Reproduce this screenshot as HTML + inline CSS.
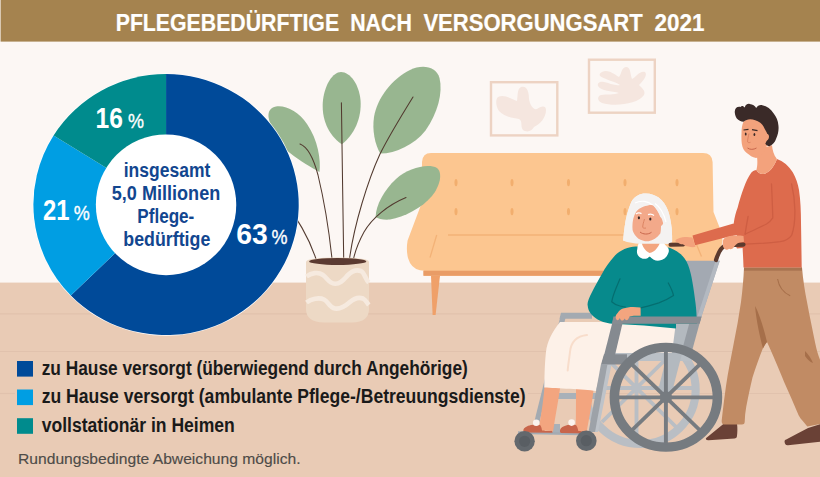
<!DOCTYPE html>
<html><head><meta charset="utf-8">
<style>
html,body{margin:0;padding:0;background:#FCF7F4;overflow:hidden;}
svg{display:block;}
text{font-family:"Liberation Sans",sans-serif;}
</style></head><body>
<svg width="820" height="477" viewBox="0 0 820 477">
<!-- wall + floor -->
<rect x="0" y="0" width="820" height="477" fill="#FCF7F4"/>
<rect x="0" y="282.6" width="820" height="195" fill="#E9CBB5"/>
<g stroke="#E1C2AD" stroke-width="1.2">
<line x1="0" y1="313.9" x2="820" y2="313.9"/>
<line x1="0" y1="351.5" x2="820" y2="351.5"/>
<line x1="0" y1="393.5" x2="15" y2="393.5"/><line x1="528" y1="393.5" x2="820" y2="393.5"/>
</g>
<!-- header -->
<rect x="0.6" y="0" width="820" height="41.6" fill="#A5834F"/>
<g fill="#FFFFFF" font-weight="bold" font-size="24" stroke="#FFFFFF" stroke-width="0.2">
<text x="115.7" y="30.6" textLength="223.4" lengthAdjust="spacingAndGlyphs">PFLEGEBEDÜRFTIGE</text>
<text x="350.2" y="30.6" textLength="61.7" lengthAdjust="spacingAndGlyphs">NACH</text>
<text x="423.4" y="30.6" textLength="219.3" lengthAdjust="spacingAndGlyphs">VERSORGUNGSART</text>
<text x="654.4" y="30.6" textLength="50" lengthAdjust="spacingAndGlyphs">2021</text>
</g>
<!-- picture frames -->
<g id="frames">
<rect x="491" y="82.2" width="66.3" height="53.2" fill="none" stroke="#EDD3C3" stroke-width="2.4"/>
<rect x="589" y="59.7" width="65.8" height="53" fill="none" stroke="#EDD3C3" stroke-width="2.4"/>
<path d="M498,97 C504,94 512,99 517,101 C518,95 517,89 521,87 C527,85 529,92 529,99 C530,105 533,110 537,109 C541,106 546,105 546,110 C546,118 540,124 534,127 C532,131 527,133 523,130 C520,126 523,121 519,119 C513,118 505,117 499,111 C496,107 495,100 498,97 Z" fill="#F5E6DF"/>
<path d="M602,72 C607,69 613,73 619,77 C622,73 621,68 626,67 C631,67 630,74 632,79 C636,77 640,70 645,72 C648,75 643,81 639,85 C642,88 646,91 644,95 C638,104 615,107 602,103 C597,101 597,96 601,95 C607,94 614,95 619,93 C612,91 601,91 598,86 C597,83 600,81 604,82 C609,83 615,86 620,85 C614,81 603,79 600,76 C599,74 600,73 602,72 Z" fill="#F5E6DF"/>
</g>
<!-- sofa -->
<g id="sofa">
<path d="M431,153 L703,153 Q712,153 712.6,162 L713.5,212 L719.4,227 L722.5,240 L721,250 L715,262 L712,275.8 L424,275.8 L424,270.7 L420,270.2 Q411,268.5 408,258 Q406,250 407.6,240.6 L421.7,203 L422,162 Q422.5,153 431,153 Z" fill="#FCC690"/>
<rect x="423.3" y="270.7" width="289" height="5.1" fill="#E99C66"/>
<path d="M431,275.8 L440,275.8 L435.6,315 L432.6,315 Z" fill="#EFA069"/>
<g fill="#F2AE6E">
<ellipse cx="456" cy="182.6" rx="1.55" ry="3.6"/><ellipse cx="512" cy="182.6" rx="1.55" ry="3.6"/><ellipse cx="568.5" cy="182.6" rx="1.55" ry="3.6"/><ellipse cx="625" cy="182.6" rx="1.55" ry="3.6"/><ellipse cx="677" cy="182.6" rx="1.55" ry="3.6"/>
<ellipse cx="456" cy="211.6" rx="1.55" ry="3.6"/><ellipse cx="512" cy="211.6" rx="1.55" ry="3.6"/><ellipse cx="568.5" cy="211.6" rx="1.55" ry="3.6"/><ellipse cx="625" cy="211.6" rx="1.55" ry="3.6"/><ellipse cx="677" cy="211.6" rx="1.55" ry="3.6"/>
</g>
<g stroke="#F3B277" stroke-width="1.3" fill="none">
<line x1="448" y1="235" x2="624" y2="235"/>
<line x1="436.7" y1="235" x2="430" y2="257.6"/>
<line x1="696.5" y1="244.5" x2="701.5" y2="256.5"/>
</g>
</g>
<!-- plant -->
<g id="plant">
<g fill="#98B690">
<path d="M319.5,172 C321,160 318,140 307,124 C299,112 286,105 276,106.5 C270.5,107.5 268,111 268.5,117 C270.5,131 280,146 290,153 C300,161 312,168 319.5,172 Z"/>
<path d="M341.8,144.3 C328,135 321,118 323,100 C325,84 333,72 341,72 C350,72 359,84 360.5,100 C362,118 354,135 341.8,144.3 Z"/>
<path d="M380.3,153.6 C375,145 372,130 374,117 C377,98 392,79 410,70 C422,64 436,66 439.5,78 C443,92 438,113 425.5,130.4 C414,145 396,153 380.3,153.6 Z"/>
<path d="M375.6,217 C376,205 384,190 396,179 C408,168 428,163 437,168 C443,173 440,186 432,196 C422,208 404,217 390,219.5 C384,220 378,219 375.6,217 Z"/>
</g>
<g stroke="#523A2F" stroke-width="1.05" fill="none" stroke-linecap="round">
<path d="M285,205 C296,215 309,238 316,259"/>
<path d="M300,144 C308,147 314,160 318,175 C324,200 329,230 332,259"/>
<path d="M341.4,102.8 C342,150 343,210 343.7,259"/>
<path d="M413,97 C400,118 388,138 380,154 C368,180 354,225 349.5,259"/>
<path d="M406,197.5 C388,205 372,218 364,232 C358,243 355,252 353.5,259"/>
</g>
<path d="M306,262 Q306,257.5 338,257.5 Q369,257.5 369,262 L369,309 Q369,322.4 352,322.4 L324,322.4 Q306,322.4 306,309 Z" fill="#EDD9C5"/>
<ellipse cx="337.7" cy="261.4" rx="28.6" ry="3.5" fill="#5B3A31"/>
<g stroke="#F6EADF" stroke-width="4.6" fill="none" stroke-linecap="butt">
<path d="M306.5,276.5 C311,273 318,271.5 323,275 C328,279 329,283.5 335,283.8 C341,284 344,279 348,275 C352,271 357,269.5 361,271 C365,273 365,279 368.8,282.5"/>
<path d="M306.5,302.5 C311,299 319,297 324,299.5 C329,302 329,307.5 335,308.5 C341,309.5 346,305.5 350,302 C354,298.5 359,297 363,298.5 C366,300 367,303 368.8,305"/>
</g>
</g>
<!-- donut -->
<g id="donut" transform="translate(166.05,204.6) scale(1.0165,1)">
<circle r="131.2" fill="#FFFFFF"/>
<path d="M0,0 L0,-130.5 A130.5,130.5 0 1 1 -93.71,90.82 Z" fill="#004A99"/>
<path d="M0,0 L-93.71,90.82 A130.5,130.5 0 0 1 -110.67,-69.15 Z" fill="#009EE3"/>
<path d="M0,0 L-110.67,-69.15 A130.5,130.5 0 0 1 0,-130.5 Z" fill="#008B8D"/>
</g>
<ellipse cx="166.05" cy="204.8" rx="70.2" ry="70.4" fill="#FFFFFF"/>
<g fill="#12468F" font-weight="bold" font-size="19.5" text-anchor="middle">
<text x="167" y="176.5" textLength="86.5" lengthAdjust="spacingAndGlyphs">insgesamt</text>
<text x="166" y="199.9" textLength="108.5" lengthAdjust="spacingAndGlyphs">5,0 Millionen</text>
<text x="165.8" y="223" textLength="57" lengthAdjust="spacingAndGlyphs">Pflege-</text>
<text x="166.8" y="245.8" textLength="87" lengthAdjust="spacingAndGlyphs">bedürftige</text>
</g>
<g fill="#FFFFFF">
<text x="95.6" y="127.9" font-size="29.5" font-weight="bold" textLength="27.4" lengthAdjust="spacingAndGlyphs">16</text>
<text x="128" y="127.9" font-size="20.5" stroke="#FFFFFF" stroke-width="0.35" textLength="16" lengthAdjust="spacingAndGlyphs">%</text>
<text x="42.9" y="219.5" font-size="29.5" font-weight="bold" textLength="26.5" lengthAdjust="spacingAndGlyphs">21</text>
<text x="73.8" y="219.5" font-size="20.5" stroke="#FFFFFF" stroke-width="0.35" textLength="16" lengthAdjust="spacingAndGlyphs">%</text>
<text x="236.2" y="244" font-size="29.5" font-weight="bold" textLength="31.5" lengthAdjust="spacingAndGlyphs">63</text>
<text x="271.4" y="244" font-size="20.5" stroke="#FFFFFF" stroke-width="0.35" textLength="16" lengthAdjust="spacingAndGlyphs">%</text>
</g>
<!-- legend -->
<rect x="17" y="361" width="16" height="15.6" fill="#004A99"/>
<rect x="17" y="389.5" width="16" height="15.6" fill="#009EE3"/>
<rect x="17" y="418.2" width="16" height="15.6" fill="#008B8D"/>
<g fill="#1A1A1A" font-weight="bold" font-size="20">
<text x="41.7" y="375.1" textLength="426.1" lengthAdjust="spacingAndGlyphs">zu Hause versorgt (überwiegend durch Angehörige)</text>
<text x="41.7" y="403" textLength="483.9" lengthAdjust="spacingAndGlyphs">zu Hause versorgt (ambulante Pflege-/Betreuungsdienste)</text>
<text x="41.7" y="431.6" textLength="193.1" lengthAdjust="spacingAndGlyphs">vollstationär in Heimen</text>
</g>
<text x="18" y="463.5" font-size="15.4" fill="#4E4B48" stroke="#4E4B48" stroke-width="0.15" textLength="282.5" lengthAdjust="spacingAndGlyphs">Rundungsbedingte Abweichung möglich.</text>
<!-- FIGURES -->
<g id="figures">
<!-- far wheel -->
<g transform="translate(640.5,389.8) scale(1.016,1)" stroke="#B9BEC4" fill="none">
<circle r="54.3" stroke-width="8"/>
</g>
<g transform="translate(636.5,388) scale(1.016,1)" stroke="#B9BEC4" fill="none">
<g stroke-width="3.8">
<line x1="0" y1="-52" x2="0" y2="54"/><line x1="-50" y1="0" x2="56" y2="0"/>
<line x1="-36.8" y1="-36.8" x2="40" y2="40"/><line x1="-34" y1="34" x2="38" y2="-38"/>
</g>
<circle r="5" fill="#B9BEC4" stroke="none"/>
</g>
<!-- far frame -->
<path d="M561,312.8 L592,312.8 L592,318.8 L559.5,318.8 Z" fill="#A3AAB1"/>
<path d="M560.5,316 L566,316 L537.2,431 L532,431 Z" fill="#A3AAB1"/>
<!-- far lower tubes -->
<path d="M606,362 L612,362 L598,432 L592,432 Z" fill="#BEC3C9"/>
<rect x="602" y="352" width="90" height="9" fill="#BAC0C6"/>
<!-- back panel -->
<path d="M672,260.8 L719.7,260.8 L699.7,322 L660,322 Z" fill="#A3A9B2"/>
<path d="M715.6,260.8 L719.7,260.8 L699.7,322 L695.6,322 Z" fill="#B3B9C1"/>
<path d="M675.5,323 L690,323 L672,392 L657.5,392 Z" fill="#B3B9BF"/>
<path d="M689.3,323.3 L701.3,317 L691.2,354 L681,354 Z" fill="#959BA2"/>
<!-- footrest -->
<rect x="553" y="393" width="48" height="6" fill="#A9B1B9"/>
<path d="M553,424 L560,424 L560,433 L553,433 Z" fill="#A9B0B8"/>
<path d="M518,431.2 L592.5,432.6 L592.5,435.4 L518,434 Z" fill="#A4ABB3"/>
<!-- shoes -->
<path d="M523.4,430 C523.8,427.6 527,426 531,425 C534,424.3 538,424.3 541,425 L545,431 L552.4,430.6 L552.4,432.8 L524.4,432.4 C523.5,432 523.2,431 523.4,430 Z" fill="#C8654B"/>
<path d="M560,430.4 C560.4,427.8 563.5,426 567.5,425 C570.5,424.3 574,424.3 577,425 L581,431.2 L587.8,431 L587.8,433.4 L561,432.9 C560,432.5 559.8,431.4 560,430.4 Z" fill="#C8654B"/>
<!-- woman legs -->
<path d="M544.6,386 L560.4,386 C558.5,400 555.5,415 553.2,430.8 L542,430.6 C541.8,428 541,425.8 539.5,424.6 C541.8,411 543.6,398 544.6,386 Z" fill="#F3A57F"/>
<path d="M576,388 L593.8,388 C592.3,402 589.5,416 586.8,431 L578.3,431 C577.8,428.5 577,426 575.8,424.8 C576,412 576,400 576,388 Z" fill="#F3A57F"/>
<circle cx="536.2" cy="422.8" r="3.3" fill="#FBF3EE"/>
<circle cx="571.6" cy="422.6" r="3.3" fill="#FBF3EE"/>
<!-- skirt -->
<path d="M560,322 C552,332 547,342 546,352 C544.5,365 544.5,378 544.3,387.5 C556,388.5 584,389 596,391 C598.5,380 600.5,370 602.5,361 L605,353 L672,353 L676,322 Z" fill="#FDF1E8"/>
<path d="M587,335 C578,336 571,341 570,352 C569,360 568,366 567.7,370.5" stroke="#F8DDCB" stroke-width="2" fill="none" stroke-linecap="round"/>
<!-- woman sweater -->
<path d="M636.8,246.5 C630,246 620,250 614.8,255.7 C609,262 605,268 602.2,273.5 C598,281 594.5,287 591.8,292.4 C589,298 587.2,302 587.6,305 C588,309 589,311.5 590.7,313.4 C593,316.5 597,319 600.2,320.7 C604,322.5 609,323.5 612.7,323.8 L644,325.5 L676,328.4 L676,323.8 L697,323.8 L696.6,316.5 C696.5,312 696,307 695.5,302.9 C694.5,295 693.5,288 692.4,281.9 C691.5,276 690,270 688.2,265.2 C686,259.5 683,256 679.8,253.6 C676,250.5 671,248 667.2,247.3 Z" fill="#078A8C"/>
<g stroke="#056E70" stroke-width="1.2" fill="none" stroke-linecap="round">
<path d="M620,278.8 C617,286 613,294 611.7,301.8 C614,304 617,305.5 620,306 C622,306.5 624,306.8 625.3,307"/>
<path d="M668.3,283 C670.5,287 672.5,291 673.5,295.5 C669,298.5 664,301 658.8,302.9 C652,305 646,306.8 640,308.1"/>
</g>
<!-- neck + collar -->
<path d="M642,236 L661.5,234 L662,252 L649.5,257 L642,252 Z" fill="#F3A57F"/>
<path d="M641,240 C638.5,243 637.3,246 637.3,249 C636.3,252.5 637.3,256 641,258 C644.5,259.8 648,258.5 649.6,256.2 C652,259 655.5,261.2 659.5,260.6 C664,260 667.5,256.5 668.7,252 C669.2,249.5 668.5,247.5 666.2,246 C664.5,244.5 663,241 661.6,238 C659.5,246 655,252.5 649.5,253 C645,251 642,246 641,240 Z" fill="#FFFFFF"/>
<!-- hair back -->
<path d="M623.1,240.6 C624,231 625,222 626.8,215.2 C628.5,209 630,204.5 631.8,200.9 C635,196 640,193.4 645.2,193.4 C650.5,193.2 655,195 658.7,197.6 C663,201 666,205.5 667.9,210.2 C670,216 671,222 671.7,228.6 C672,233 672.2,238 672.1,242 C670,243.5 667.5,243.9 665.4,243.7 L641.9,243.7 C636,244 629,243 623.1,240.6 Z" fill="#F4F2F1"/>
<!-- face -->
<path d="M632.6,216.9 C634,212 638,208 643.5,206 C647,205 650.5,204.8 652.8,205.1 C656,208 658.5,212.5 660.3,216.9 C662,218 663.5,219.5 663.7,221 C663.8,223.5 662.5,225 661,226 C661,229 660.8,231.5 660.3,233.6 C657,238 653,240.5 648.6,241.2 C645,241.5 641.5,240.5 638.5,238.7 C635.5,236.5 633.5,233.5 632.6,230.3 C632,226 632,221 632.6,216.9 Z" fill="#F3A98A"/>
<!-- hair front strands -->
<path d="M631.8,200.9 C635,196 640,193.4 645.2,193.4 C650.5,193.2 655,195 658.7,197.6 C663,201 666,205.5 667.9,210.2 C670,216 671,222 671.7,228.6 C672,233 672.2,238 672.1,242 C670,243.5 667.5,243.9 665.4,243.7 C664.5,238 664.5,232 663.7,226 C662.5,218 658,210 652.8,205.1 C647,204.8 640,207 636,212 C633.5,216 632.5,221 632.3,226 C632,231 632,236 631,241.5 C628,241.8 625.5,241.5 623.1,240.6 C624,231 625,222 626.8,215.2 C628.5,209 630,204.5 631.8,200.9 Z" fill="#F4F2F1"/>
<path d="M652.8,205.1 C648,201 641,200 635,203" stroke="#FFFFFF" stroke-width="1.2" fill="none"/>
<path d="M655,203.5 C660,207 664,214 666,222" stroke="#FFFFFF" stroke-width="1.2" fill="none"/>
<!-- face details -->
<ellipse cx="638.9" cy="217.7" rx="1.1" ry="1.5" fill="#3A2A28"/>
<ellipse cx="650.3" cy="219" rx="1.1" ry="1.5" fill="#3A2A28"/>
<path d="M636,214 C637.5,212.8 640,212.8 641.5,213.6" stroke="#FFFFFF" stroke-width="1.3" fill="none"/>
<path d="M648,214.6 C650,213.8 652.5,214.3 654,215.6" stroke="#FFFFFF" stroke-width="1.3" fill="none"/>
<path d="M644.5,219 C643.5,222.5 642.5,225.5 642.8,227.5 C643.5,228.3 645,228.3 646,228" stroke="#D9805F" stroke-width="0.9" fill="none"/>
<path d="M640,232 C643,234.5 648,234.8 651.5,232.3" stroke="#C9674C" stroke-width="1" fill="none"/>
<!-- near frame -->
<path d="M604,354.3 L627,354.3 L627,364.5 L601,364.5 Z" fill="#858A90"/>
<path d="M601,364 L607.5,364 L595,432 L588.5,432 Z" fill="#9DA2A8"/>
<path d="M613,320 L623.3,320 L613.6,361 L602.6,361 Z" fill="#858A90"/>
<path d="M613.4,316.6 L701.6,316.6 L699.6,323.8 L612,323.8 Z" fill="#888C92"/>
<!-- hand -->
<path d="M640.6,307.6 C634,306.6 628,306.8 623,308.6 C620.5,309.6 619,311 618,312.5 C616.5,314 615.5,315.5 615.6,317 C615.8,318.8 616.5,320.2 617.6,320.3 C618.6,320.2 619.2,319 619.8,318 C620.3,319.5 621,320.6 622.2,320.6 C623.4,320.5 624,319.4 624.6,318.4 C625.2,319.6 626,320.3 627.2,320.1 C628.4,319.6 629,318 629.6,316.6 C631,316 633,315.7 636,315.7 L640.7,315.7 Z" fill="#F3A57F"/>
<!-- casters -->
<circle cx="524.6" cy="441.3" r="10.2" fill="#63686D"/>
<circle cx="586.3" cy="440.7" r="10.3" fill="#63686D"/>
<circle cx="524.6" cy="441.3" r="5.6" fill="#595E63"/>
<circle cx="586.3" cy="440.7" r="5.6" fill="#595E63"/>
<!-- near wheel -->
<g transform="translate(665.9,397.3) scale(1.032,1)" stroke="#767B80" fill="none">
<circle r="49.9" stroke-width="9.3"/>
<g stroke-width="3.8">
<line x1="0" y1="-47" x2="0" y2="47"/><line x1="-47" y1="0" x2="47" y2="0"/>
<line x1="-33.2" y1="-33.2" x2="33.2" y2="33.2"/><line x1="-33.2" y1="33.2" x2="33.2" y2="-33.2"/>
</g>
<circle r="6" fill="#767B80" stroke="none"/>
</g>
<!-- man shoes -->
<path d="M724,423.6 L737,423.6 C737.6,428 737.5,433 736.9,436.6 C736.6,438 735.6,438.5 734.5,438.5 L708.5,440.2 C706.3,440.3 705.2,439.2 706.2,438 Z" fill="#6A4136"/>
<path d="M784.6,441.6 C784.4,440.4 785,439.8 786.2,439.4 L798,433.2 L808.1,428 L822,423.5 L822,441.5 L788,445.3 C785.6,445.5 784.5,443.6 784.6,441.6 Z" fill="#6A4136"/>
<!-- man pants -->
<path d="M744,267.5 L802,267.5 C803,280 805,292 807,302 C810,318 813,332 815.4,344 C817,352 819,358 822,364 L822,423.6 L807.3,426.4 C804.5,422.5 801,420 798.6,415.3 C794,404 789,393 784,381.7 C779,369 772,353 767,342 C765,344 764,346 763,348 C759,358 755.5,368 752.5,377.5 C750,388 748,398 746.2,406.9 C745.3,412 744.8,417 744.7,422 C744.5,423.8 743.5,424.5 742,424.5 L724,424.5 C722.3,424.4 721.5,423 721.7,420.5 C723,408 724.5,397 726,386 C728,372 731,358 733.6,344 C736.5,330 739,316 741,302 C742.5,290 743.5,279 744,267.5 Z" fill="#C18B64"/>
<path d="M755,306 C759.5,314 764,329 767,342 C765.5,344 764.3,346 763,348.5 C760,337 756.5,322 755,306 Z" fill="#A66F4A"/>
<path d="M805,351 C808,354 811,358 813,363 C810,362 807,359 805,356 Z" fill="#A66F4A"/>
<path d="M777.6,279 C779,287 784,293 790.2,295.7" stroke="#A66F4A" stroke-width="1.1" fill="none"/>
<rect x="744" y="267.5" width="58" height="3.2" fill="#A87450"/>
<!-- man far arm -->
<path d="M737,219.5 L734.4,223.3 L692.5,235.6 L695,245.2 L723.5,238 L746,233 Z" fill="#DD6B4D"/>
<!-- man sweater -->
<path d="M756.4,170 C758,173 760.5,174.3 763.5,174 C769,173 774,167 776.9,159 C783,161 789,166 792.9,172.6 C796,178 798,184 799,190 C800.5,200 801,212 801,222.8 C801.3,238 801.5,253 801.7,267.5 L743.5,267.5 C743.3,261 743,254.5 742.6,248 L737,248.5 C735,245 735,240 737,236 L733.8,222.8 C734.5,217 736,212 737.6,207.7 C739.5,200.5 741.5,194 743.9,187.6 C746,181.5 748.5,177 751.4,172.6 C753,171 754.5,170 756.4,170 Z" fill="#DD6B4D"/>
<g stroke="#CE5E43" stroke-width="1.3" fill="none" stroke-linecap="round">
<path d="M771.5,184 C772,195 772.5,206 772.8,217.8 C771,220.5 769,222.5 766.5,224 C759,227.5 752,231 745.1,234.1"/>
<path d="M748.1,216.5 C747,222 746,228 745.1,234.1"/>
<path d="M791.6,184 C793.5,192 794.8,201 794.9,210.3 C795,220 794,229 791.6,235.4 C789,239 785,241 780.3,241.7 C769,243 757,243.8 745.1,244.2"/>
</g>
<!-- man neck + head -->
<path d="M756,150 L772,145.3 C772.5,150 773.5,155 776.9,159 C774,167 769,173 763.5,174 C760.5,174.3 758,173 756.4,170 C757.5,166 758,160 756,150 Z" fill="#F3A27C"/>
<path d="M743.5,121.8 C742,125 741.5,129 741.5,133.6 C741.3,137 741.4,140.5 741.8,143.7 C742.5,148 744,151 746.8,152.9 C749.5,155 752.5,157.5 756,157.9 C760,157.5 763.5,153 765.3,149 L770,140 L768,128 L760.3,120 L750.2,117 Z" fill="#F3A27C"/>
<path d="M734.8,112.6 C734.3,108.8 737,106.2 740.5,107 C741.5,105.5 743.3,105.6 744.8,107.6 C745.3,104.8 747.3,103.6 749.6,103.9 C752.8,104.1 755,105.6 756.2,108 C757.5,105.6 759.8,104.7 762.3,105.2 C767,106 771,109 773.7,113.5 C776.5,117 778,121 778.4,125.2 C779,130 778,134.5 776.2,138.6 C775,142.5 772.5,145 769.5,146.2 C768,146 766.3,145 765.3,143.7 C766.5,141.5 767.5,139 767.8,136 C767.5,133.5 766,131 764.5,128.5 C763.5,126 762,124 760.3,122.7 C757,120.5 753.5,119.3 750.2,119.3 C747.5,119.5 745.5,120.5 743.5,121.8 C741,121.5 738.5,120.5 736.8,118.5 C735.5,116.5 735,114.5 734.8,112.6 Z" fill="#3A2A28"/>
<path d="M765.5,134 C767.5,133 769.3,134.5 769,137 C768.8,139.5 767,141 765.3,141 Z" fill="#F3A27C"/>
<ellipse cx="745.7" cy="134" rx="0.9" ry="1.6" fill="#3A2A28"/>
<ellipse cx="754.4" cy="134.5" rx="0.9" ry="1.6" fill="#3A2A28"/>
<path d="M743.5,130 L748.5,129.3" stroke="#3A2A28" stroke-width="1.2" fill="none"/>
<path d="M752,129.6 L757.5,130.6" stroke="#3A2A28" stroke-width="1.2" fill="none"/>
<path d="M749,133.5 C748.3,136.5 747.5,139.5 747.6,142 C748.2,142.8 749.5,142.8 750.5,142.3" stroke="#D9805F" stroke-width="0.9" fill="none"/>
<path d="M747.5,148 C750,149.8 753.5,149.8 756.5,148" stroke="#C9674C" stroke-width="1" fill="none"/>
<!-- handles -->
<line x1="670.5" y1="244.7" x2="683.5" y2="244.4" stroke="#5C3A2E" stroke-width="4" stroke-linecap="round"/>
<path d="M743.5,244.6 C737,244.6 731,245 725.5,245.8 C721,247 718.5,252 716,260" stroke="#5C3A2E" stroke-width="4.2" fill="none" stroke-linecap="round"/>
<!-- hands -->
<path d="M692.5,237.5 C689,236.8 685.5,236.8 682.6,237.2 C679.5,237.8 677,238.8 675.6,240 C675,241.5 676,242.5 678,242.5 C679,243.8 681,244.5 683,244.3 C684,245.5 686,246.3 688.5,246.5 C690.5,247.2 693,247.3 695.5,247 Z" fill="#F3A27C"/>
<path d="M743.5,236 C738,235.2 731,235.5 727,236.8 C724,238 722.6,240 722.8,242.5 C722.3,245 723,247.5 724.6,248.8 C725.8,250 727.8,250 729,248.8 C730.5,249.6 732.5,249.2 733.5,247.5 C735,245.5 737,243.5 739.5,242.6 L744,241.8 Z" fill="#F3A27C"/>
</g>

</svg>
</body></html>
